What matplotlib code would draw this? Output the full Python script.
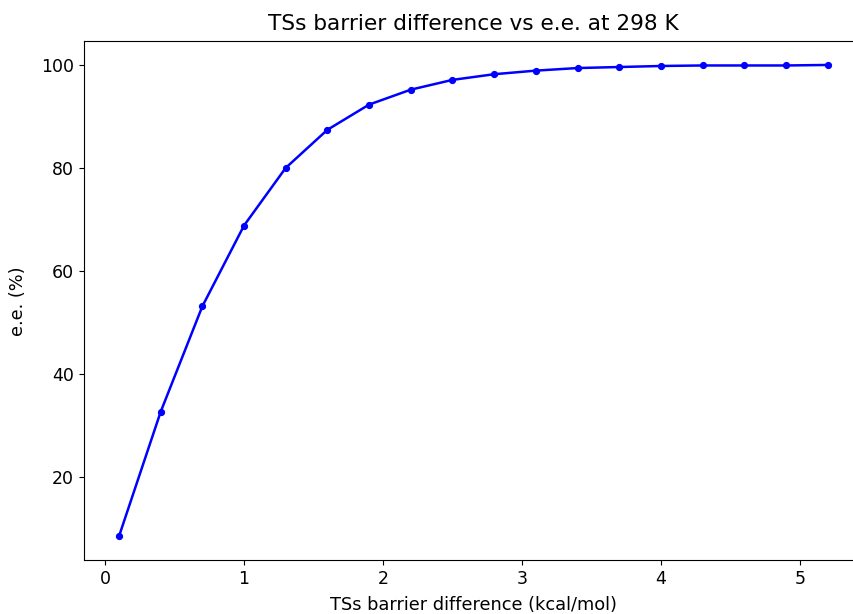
import matplotlib
matplotlib.use("Agg")
import matplotlib.pyplot as plt

# barrier difference (kcal/mol) and resulting e.e. (%) at 298 K
dG = [0.1, 0.4, 0.7, 1.0, 1.3, 1.6, 1.9, 2.2, 2.5, 2.8,
      3.1, 3.4, 3.7, 4.0, 4.3, 4.6, 4.9, 5.2]
ee = [8.4, 32.6, 53.1, 68.8, 80.0, 87.4, 92.3, 95.2, 97.1, 98.2,
      98.9, 99.4, 99.6, 99.8, 99.9, 99.9, 99.9, 100.0]

fig = plt.figure(figsize=(8.54, 6.14), dpi=100)
# axes run past the right edge of the canvas (cropped figure)
ax = fig.add_axes([0.0978, 0.0879, 0.9128, 0.8447])

ax.plot(dG, ee, "o-", color="blue", lw=1.8, markersize=4.2)
ax.set_title("TSs barrier difference vs e.e. at 298 K", fontsize=15.6, pad=8)
ax.set_xlabel("TSs barrier difference (kcal/mol)", fontsize=12.8, labelpad=6)
ax.set_ylabel("e.e. (%)", fontsize=12.8, labelpad=10)
ax.tick_params(labelsize=12.5)
ax.spines["right"].set_visible(False)

fig.savefig("out.png", dpi=100)
